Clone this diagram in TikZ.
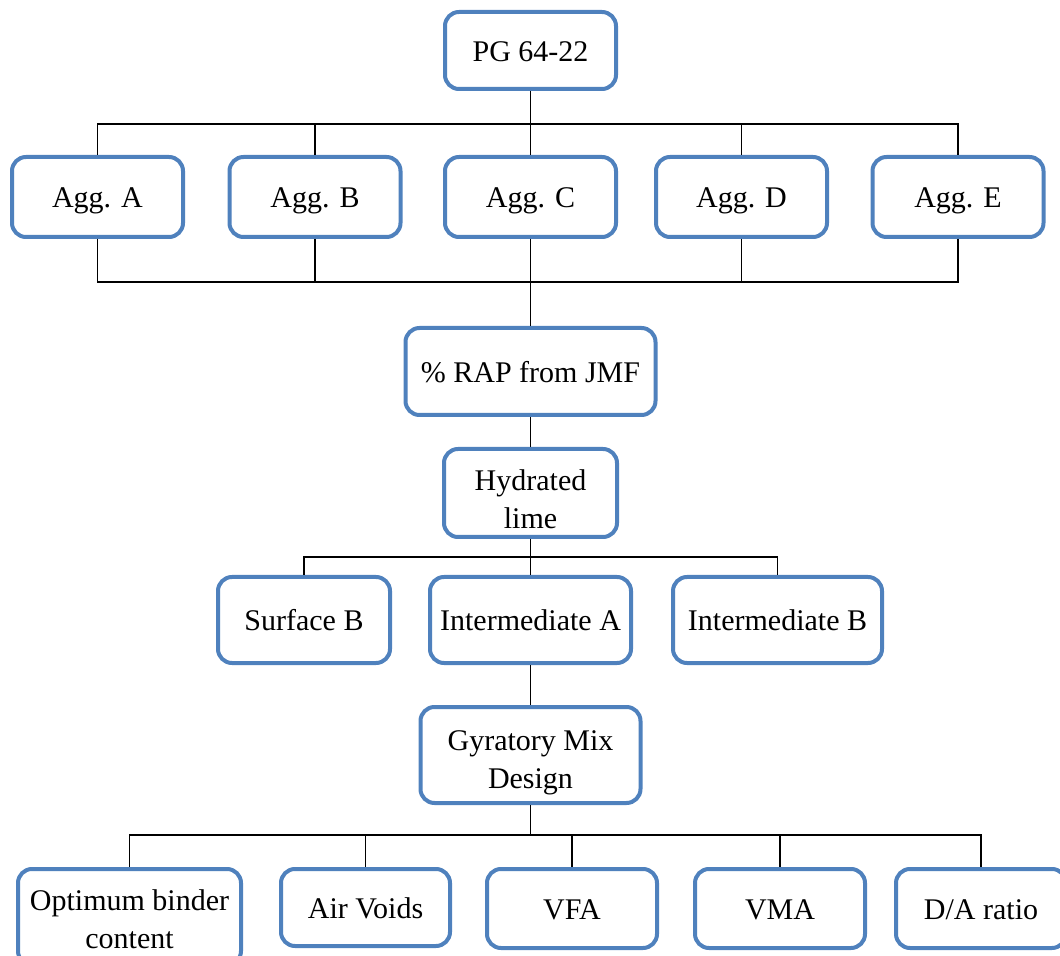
\documentclass[tikz,border=0pt]{standalone}
\usepackage{fontspec}
\setmainfont{Liberation Serif}
\definecolor{boxblue}{RGB}{79,129,189}
\begin{document}
\begin{tikzpicture}[x=0.5pt,y=-0.5pt,
  box/.style={draw=boxblue, line width=2pt, rounded corners=7pt, fill=white,
    inner sep=0pt, align=center, font=\fontsize{15}{19}\selectfont},
  oneline/.style={text height=11pt, text depth=0pt},
  conn/.style={draw=black, line width=0.9pt}]
\useasboundingbox (0,0) rectangle (1060,956);
% level 1
\node[box, oneline, minimum width=85.5pt, minimum height=38.5pt] (pg) at (530.5,50.5) {PG 64-22};
% level 2
\node[box, oneline, minimum width=85.5pt, minimum height=40pt] (aggA) at (97.5,197) {Agg. A};
\node[box, oneline, minimum width=85.5pt, minimum height=40pt] (aggB) at (315,197) {Agg. B};
\node[box, oneline, minimum width=85.5pt, minimum height=40pt] (aggC) at (530.5,197) {Agg. C};
\node[box, oneline, minimum width=85.5pt, minimum height=40pt] (aggD) at (741.5,197) {Agg. D};
\node[box, oneline, minimum width=85.5pt, minimum height=40pt] (aggE) at (958,197) {Agg. E};
% level 3
\node[box, oneline, minimum width=125pt, minimum height=43.5pt] (rap) at (530.5,371.5) {\% RAP from JMF};
\node[box, minimum width=86.5pt, minimum height=44pt] (lime) at (530.5,493) {\rule{0pt}{16.25pt}Hydrated\\lime};
% level 4
\node[box, oneline, minimum width=86pt, minimum height=43pt] (surf) at (304,620) {Surface B};
\node[box, oneline, minimum width=100.5pt, minimum height=43pt] (intA) at (530.5,620) {Intermediate A};
\node[box, oneline, minimum width=104.5pt, minimum height=43pt] (intB) at (777.5,620) {Intermediate B};
% level 5
\node[box, minimum width=110pt, minimum height=48pt] (gyr) at (530.5,755) {\rule{0pt}{17.25pt}Gyratory Mix\\Design};
% level 6
\node[box, minimum width=111.5pt, minimum height=48pt] (opt) at (129.5,917) {\rule{0pt}{12.25pt}Optimum binder\\content};
\node[box, oneline, minimum width=84.5pt, minimum height=38.5pt] (air) at (365.5,907.5) {Air Voids};
\node[box, oneline, minimum width=85pt, minimum height=39.5pt] (vfa) at (572,908.5) {VFA};
\node[box, oneline, minimum width=85pt, minimum height=39.5pt] (vma) at (780,908.5) {VMA};
\node[box, oneline, minimum width=85pt, minimum height=39.5pt] (da) at (981,908.5) {D/A ratio};
% bus coordinates
\coordinate (b1) at (530.5,124);
\coordinate (b2) at (530.5,282);
\coordinate (b3) at (530.5,557);
\coordinate (b4) at (530.5,835);
% connectors
\draw[conn] (pg.south) -- (b1);
\foreach \n in {aggA,aggB,aggC,aggD,aggE} \draw[conn] (b1) -| (\n.north);
\foreach \n in {aggA,aggB,aggC,aggD,aggE} \draw[conn] (\n.south) |- (b2);
\draw[conn] (b2) -- (rap.north);
\draw[conn] (rap.south) -- (lime.north);
\draw[conn] (lime.south) -- (b3);
\foreach \n in {surf,intA,intB} \draw[conn] (b3) -| (\n.north);
\draw[conn] (intA.south) -- (gyr.north);
\draw[conn] (gyr.south) -- (b4);
\foreach \n in {opt,air,vfa,vma,da} \draw[conn] (b4) -| (\n.north);
\end{tikzpicture}
\end{document}
